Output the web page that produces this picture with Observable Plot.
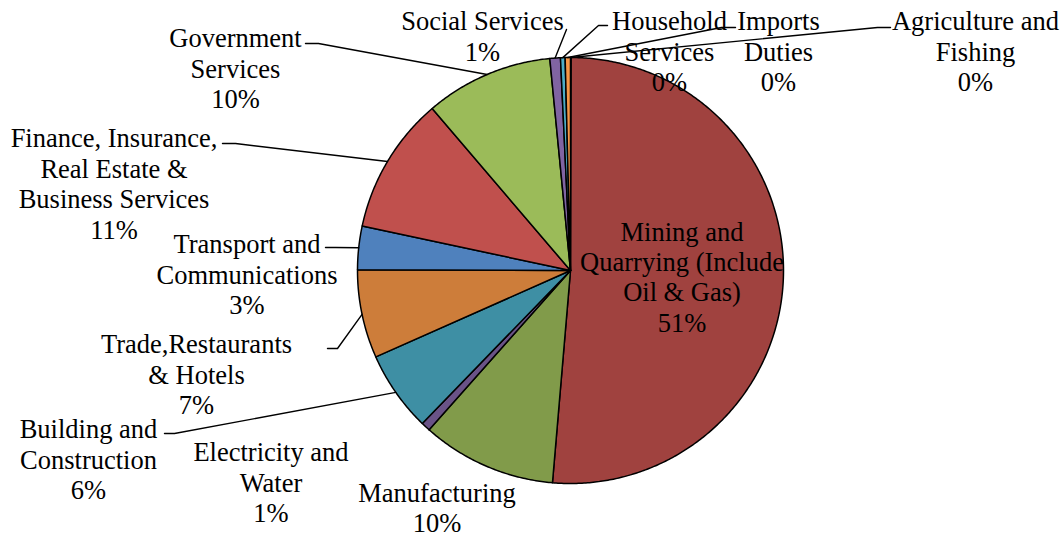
<!DOCTYPE html>
<html><head><meta charset="utf-8">
<script src="https://cdn.jsdelivr.net/npm/d3@7"></script>
<script src="https://cdn.jsdelivr.net/npm/@observablehq/plot@0.6"></script>
<style>body{margin:0;background:#fff}</style>
</head><body><div id="chart"></div>
<script>
// ---- data (clockwise from 12 o'clock) ----
const sectors = [
  "Agriculture and Fishing",
  "Mining and Quarrying (Include Oil & Gas)",
  "Manufacturing",
  "Electricity and Water",
  "Building and Construction",
  "Trade,Restaurants & Hotels",
  "Transport and Communications",
  "Finance, Insurance, Real Estate & Business Services",
  "Government Services",
  "Social Services",
  "Household Services",
  "Imports Duties"
];
const shares = [0.05, 51.3, 10.2, 0.7, 6.1, 6.7, 3.3, 10.4, 9.7, 0.8, 0.35, 0.4];
const percentLabels = ["0%", "51%", "10%", "1%", "6%", "7%", "3%", "11%", "10%", "1%", "0%", "0%"];
const labelText = [
  "Agriculture and\nFishing",
  "Mining and\nQuarrying (Include\nOil & Gas)",
  "Manufacturing",
  "Electricity and\nWater",
  "Building and\nConstruction",
  "Trade,Restaurants\n& Hotels",
  "Transport and\nCommunications",
  "Finance, Insurance,\nReal Estate &\nBusiness Services",
  "Government\nServices",
  "Social Services",
  "Household\nServices",
  "Imports\nDuties"
];
const colors = ["#426B9D", "#A0423F", "#819B4A", "#6A5387", "#3E8FA4", "#CD7D3A",
                "#4F81BD", "#C0504D", "#9BBB59", "#8064A2", "#4BACC6", "#F79646"];

// ---- layout (pixels) ----
const cx = 570, cy = 270, R = 213;
// label block centre [x, y], leader start [x, y], stub end [x, y] (null = no leader)
const labelLayout = [
  {c: [975, 50.5], s: [890, 27], e: [877, 27]},
  {c: [681.5, 276], s: null},
  {c: [436.5, 507], s: null},
  {c: [270.5, 481.5], s: null},
  {c: [88, 458.5], s: [164, 433], e: [174, 433]},
  {c: [196, 373.5], s: [327, 348], e: [337, 348]},
  {c: [246.5, 273.5], s: [325, 247], e: [335, 247]},
  {c: [113.5, 182.75], s: [222, 143], e: [235, 143]},
  {c: [235, 67.5], s: [305, 43], e: [318, 43]},
  {c: [482, 35.25], s: [566, 29], e: [566, 29]},
  {c: [669, 50.5], s: [607, 25], e: [598, 25]},
  {c: [778, 50.5], s: [735, 27], e: [721, 27]}
];

// ---- geometry from data ----
const arcs = d3.pie().sort(null).startAngle(0).endAngle(2 * Math.PI)(shares);
const pt = (a, r) => [cx + r * Math.sin(a), cy - r * Math.cos(a)];
const slicePts = [];
arcs.forEach((a, i) => {
  const name = sectors[i];
  slicePts.push({name, p: [cx, cy]});
  const n = Math.max(2, Math.ceil((a.endAngle - a.startAngle) / (Math.PI / 360)));
  for (let k = 0; k <= n; k++) {
    const ang = a.startAngle + (a.endAngle - a.startAngle) * k / n;
    slicePts.push({name, p: pt(ang, R)});
  }
  slicePts.push({name, p: [cx, cy]});
});
const leaderPts = [];
arcs.forEach((a, i) => {
  const L = labelLayout[i];
  if (!L.s) return;
  const mid = (a.startAngle + a.endAngle) / 2;
  const name = sectors[i];
  leaderPts.push({name, p: L.s}, {name, p: L.e}, {name, p: pt(mid, R)});
});
const labels = sectors.map((name, i) => ({
  name, x: labelLayout[i].c[0], y: labelLayout[i].c[1],
  text: labelText[i] + "\n" + percentLabels[i]
}));

const chart = Plot.plot({
  width: 1063, height: 538,
  margin: 0,
  x: {domain: [0, 1063], range: [0, 1063], axis: null},
  y: {domain: [0, 538], range: [0, 538], axis: null},
  color: {domain: sectors, range: colors},
  marks: [
    Plot.line(slicePts, {x: d => d.p[0], y: d => d.p[1], z: "name", fill: "name",
      stroke: "black", strokeWidth: 1.5, strokeLinejoin: "round", curve: "linear"}),
    Plot.line(leaderPts, {x: d => d.p[0], y: d => d.p[1], z: "name",
      stroke: "black", strokeWidth: 1.4, curve: "linear"}),
    Plot.text(labels, {x: "x", y: "y", text: "text", fontSize: 26.5, lineHeight: 1.15,
      fontFamily: "Liberation Serif", textAnchor: "middle", lineAnchor: "middle", fill: "black"})
  ],
  style: {fontFamily: "Liberation Serif", background: "white"}
});
document.getElementById("chart").appendChild(chart);
</script>
</body></html>
